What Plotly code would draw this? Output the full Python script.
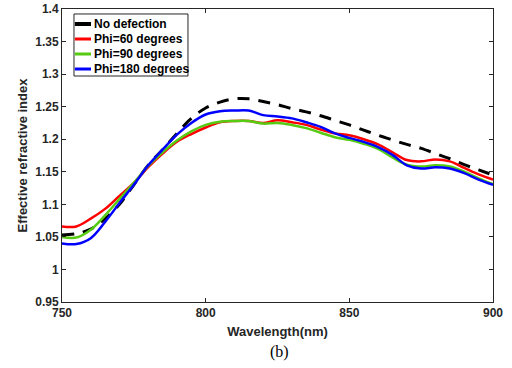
import plotly.graph_objects as go

wavelength = list(range(750, 901, 5))

no_defection = [1.053, 1.055, 1.062, 1.078, 1.100, 1.130, 1.160, 1.184, 1.209, 1.232,
                1.248, 1.257, 1.262, 1.262, 1.258, 1.253, 1.247, 1.242, 1.236, 1.229,
                1.222, 1.214, 1.206, 1.199, 1.192, 1.186, 1.178, 1.170, 1.161, 1.153, 1.145]

phi60 = [1.066, 1.066, 1.078, 1.093, 1.113, 1.133, 1.157, 1.178, 1.196, 1.208,
         1.218, 1.226, 1.228, 1.228, 1.225, 1.229, 1.226, 1.222, 1.215, 1.209,
         1.206, 1.200, 1.192, 1.180, 1.168, 1.166, 1.169, 1.166, 1.156, 1.146, 1.138]

phi90 = [1.050, 1.049, 1.061, 1.083, 1.108, 1.133, 1.159, 1.180, 1.198, 1.212,
         1.222, 1.227, 1.228, 1.228, 1.224, 1.225, 1.222, 1.217, 1.210, 1.203,
         1.199, 1.193, 1.185, 1.172, 1.161, 1.158, 1.160, 1.158, 1.150, 1.140, 1.131]

phi180 = [1.040, 1.039, 1.048, 1.073, 1.102, 1.130, 1.160, 1.184, 1.207, 1.225,
          1.238, 1.243, 1.244, 1.244, 1.237, 1.235, 1.232, 1.226, 1.219, 1.209,
          1.202, 1.196, 1.188, 1.176, 1.160, 1.155, 1.157, 1.155, 1.148, 1.138, 1.130]

series_names = ["No defection", "Phi=60 degrees", "Phi=90 degrees", "Phi=180 degrees"]
series_colors = ["black", "#ff0000", "#55cc11", "#0000ff"]

x_ticks = [750, 800, 850, 900]
y_ticks = [0.95, 1.0, 1.05, 1.1, 1.15, 1.2, 1.25, 1.3, 1.35, 1.4]
y_tick_labels = ["0.95", "1", "1.05", "1.1", "1.15", "1.2", "1.25", "1.3", "1.35", "1.4"]

fig = go.Figure()
all_series = [no_defection, phi60, phi90, phi180]
for name, color, vals in zip(series_names, series_colors, all_series):
    if name == "No defection":
        line = dict(color=color, width=3, dash="12px,9px", shape="spline")
    else:
        line = dict(color=color, width=2.5, shape="spline")
    fig.add_trace(go.Scatter(x=wavelength, y=vals, name=name, mode="lines", line=line,
                             showlegend=False))

axis_font = dict(family="Arial, Liberation Sans, sans-serif", size=12, color="#262626", weight="bold")
common = dict(showline=True, linecolor="#262626", linewidth=1, mirror="ticks",
              ticks="inside", ticklen=4, tickcolor="#262626", showgrid=False,
              zeroline=False, tickfont=axis_font, automargin=False)

fig.update_layout(
    width=512, height=368,
    margin=dict(l=62, r=19, t=9, b=66),
    paper_bgcolor="white", plot_bgcolor="white",
    font=dict(family="Arial, Liberation Sans, sans-serif", color="#262626"),
    showlegend=False,
    xaxis=dict(range=[750, 900], tickvals=x_ticks, ticktext=[str(v) for v in x_ticks],
               title=dict(text="<b>Wavelength(nm)</b>", font=dict(size=13, color="#262626"), standoff=7),
               **common),
    yaxis=dict(range=[0.95, 1.4], tickvals=y_ticks, ticktext=y_tick_labels,
               title=dict(text="<b>Effective refractive index</b>", font=dict(size=13, color="#262626"), standoff=4),
               **common),
)

# manual legend (compact, MATLAB style)
box_x0, box_x1, box_y0, box_y1 = 0.0278, 0.2923, 0.7713, 0.983
fig.add_shape(type="rect", xref="paper", yref="paper", x0=box_x0, x1=box_x1, y0=box_y0, y1=box_y1,
              line=dict(color="#262626", width=1), fillcolor="white", layer="above")
entry_y = [0.9488, 0.8976, 0.8464, 0.7952]
for i, (name, color) in enumerate(zip(series_names, series_colors)):
    fig.add_shape(type="line", xref="paper", yref="paper", x0=box_x0 + 0.002, x1=0.0673,
                  y0=entry_y[i], y1=entry_y[i],
                  line=dict(color=color, width=4 if i == 0 else 3), layer="above")
    fig.add_annotation(text="<b>" + name + "</b>", x=0.0690, y=entry_y[i], xref="paper", yref="paper",
                       xanchor="left", yanchor="middle", showarrow=False,
                       font=dict(family="Arial, Liberation Sans, sans-serif", size=12, color="black"))

fig.add_annotation(text="(b)", x=0.505, y=-0.171, xref="paper", yref="paper",
                   xanchor="center", yanchor="middle", showarrow=False,
                   font=dict(family="Liberation Serif, Times New Roman, serif", size=16, color="black"))

fig.write_html("out.html")
